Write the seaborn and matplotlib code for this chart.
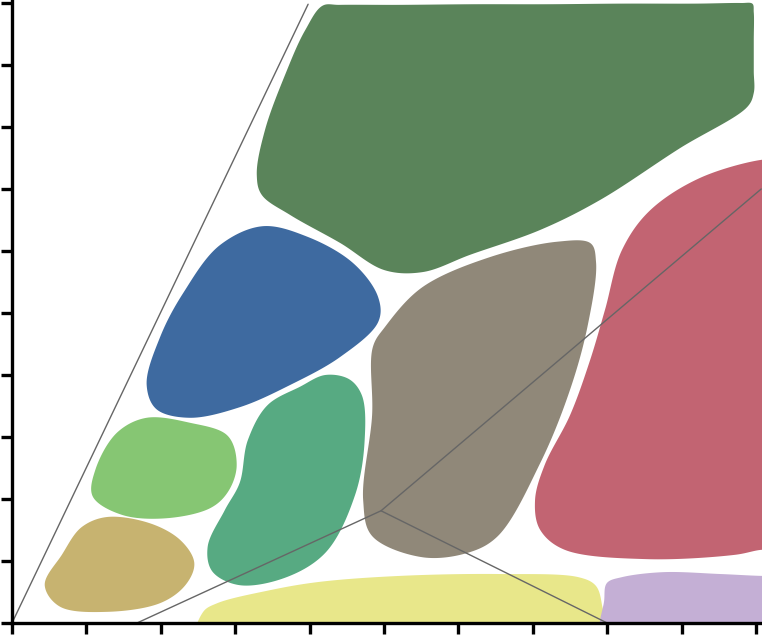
import numpy as np
import pandas as pd
import matplotlib
matplotlib.use("Agg")
import matplotlib.pyplot as plt
import seaborn as sns

# region outlines, data units (x 0-10, y 0-10)
tan_x = [1.28, 1.85, 2.26, 2.45, 2.33, 1.99, 1.28, 0.65, 0.44, 0.67, 0.94]
tan_y = [1.71, 1.61, 1.34, 0.97, 0.61, 0.32, 0.18, 0.26, 0.61, 1.10, 1.55]

lightgreen_x = [1.81, 2.39, 2.89, 3.02, 2.90, 2.66, 2.08, 1.49, 1.09, 1.12, 1.42]
lightgreen_y = [3.31, 3.23, 3.03, 2.55, 2.11, 1.85, 1.69, 1.74, 2.03, 2.47, 3.08]

teal_x = [4.21, 4.52, 4.70, 4.74, 4.61, 4.21, 3.67, 3.06, 2.70, 2.63, 2.86, 3.06, 3.17, 3.44, 3.87]
teal_y = [4.00, 3.94, 3.68, 2.95, 2.06, 1.13, 0.73, 0.61, 0.82, 1.23, 1.82, 2.26, 2.95, 3.52, 3.81]

blue_x = [3.37, 3.97, 4.58, 4.92, 4.92, 4.41, 3.74, 3.06, 2.39, 1.95, 1.81, 1.99, 2.30, 2.80]
blue_y = [6.40, 6.23, 5.81, 5.26, 4.85, 4.29, 3.84, 3.48, 3.31, 3.44, 3.84, 4.61, 5.32, 6.10]

darkgreen_x = [4.18, 4.40, 5.20, 6.20, 7.20, 8.20, 9.20, 9.80, 9.95, 9.97, 9.97, 9.97, 9.97,
               9.88, 8.98, 7.90, 7.10, 6.16, 5.52, 5.01,
               4.41, 3.74, 3.36, 3.29, 3.40, 3.67, 3.94]
darkgreen_y = [9.96, 9.97, 9.97, 9.98, 9.98, 9.99, 9.99, 10.0, 9.99, 9.85, 9.40, 8.90, 8.55,
               8.32, 7.66, 6.82, 6.34, 5.94, 5.66, 5.69,
               6.13, 6.58, 6.90, 7.23, 7.95, 8.84, 9.56]

gray_x = [7.33, 7.77, 7.85, 7.74, 7.50, 7.10, 6.52, 6.12, 5.52, 4.85, 4.72, 4.84, 4.85, 5.01, 5.52, 6.42]
gray_y = [6.15, 6.13, 5.82, 4.81, 3.76, 2.58, 1.39, 1.13, 1.06, 1.39, 1.98, 3.35, 4.45, 4.77, 5.42, 5.90]

pink_x = [10.07, 9.25, 8.58, 8.20, 7.97, 7.77, 7.50, 7.16, 7.03, 7.10, 7.43, 8.53, 9.72, 10.07, 10.32, 10.32]
pink_y = [7.47, 7.18, 6.66, 6.02, 5.05, 4.24, 3.35, 2.55, 1.98, 1.50, 1.18, 1.03, 1.10, 1.18, 1.18, 7.47]

yellow_x = [2.50, 2.57, 2.76, 3.43, 4.11, 5.22, 6.56, 7.61, 7.84, 7.93, 7.94, 5.22]
yellow_y = [-0.30, 0.18, 0.32, 0.52, 0.66, 0.76, 0.79, 0.74, 0.61, 0.29, -0.30, -0.30]

lavender_x = [7.96, 7.96, 8.00, 8.20, 8.75, 9.52, 10.07, 10.32, 10.32]
lavender_y = [-0.30, 0.37, 0.65, 0.74, 0.82, 0.79, 0.76, 0.76, -0.30]

regions = [
    (darkgreen_x, darkgreen_y, "#5a845a"),
    (blue_x, blue_y, "#3e6aa0"),
    (lightgreen_x, lightgreen_y, "#86c673"),
    (teal_x, teal_y, "#57aa82"),
    (tan_x, tan_y, "#c7b370"),
    (gray_x, gray_y, "#908879"),
    (pink_x, pink_y, "#c26472"),
    (yellow_x, yellow_y, "#e8e78a"),
    (lavender_x, lavender_y, "#c4afd5"),
]

# boundary lines
line_names = ["a", "a", "b", "b", "b", "c", "c"]
line_x = [0.0, 3.98, 1.68, 4.96, 10.07, 4.96, 8.0]
line_y = [0.0, 9.98, 0.0, 1.81, 7.0, 1.81, 0.0]


def smooth_closed(xs, ys, n=24):
    # centripetal catmull-rom through the outline points
    P = np.column_stack([xs, ys]).astype(float)
    m = len(P)
    out = []
    for i in range(m):
        p0, p1, p2, p3 = P[(i - 1) % m], P[i], P[(i + 1) % m], P[(i + 2) % m]
        t0 = 0.0
        t1 = t0 + np.linalg.norm(p1 - p0) ** 0.5
        t2 = t1 + np.linalg.norm(p2 - p1) ** 0.5
        t3 = t2 + np.linalg.norm(p3 - p2) ** 0.5
        t = np.linspace(t1, t2, n, endpoint=False)[:, None]
        a1 = (t1 - t) / (t1 - t0) * p0 + (t - t0) / (t1 - t0) * p1
        a2 = (t2 - t) / (t2 - t1) * p1 + (t - t1) / (t2 - t1) * p2
        a3 = (t3 - t) / (t3 - t2) * p2 + (t - t2) / (t3 - t2) * p3
        b1 = (t2 - t) / (t2 - t0) * a1 + (t - t0) / (t2 - t0) * a2
        b2 = (t3 - t) / (t3 - t1) * a2 + (t - t1) / (t3 - t1) * a3
        out.append((t2 - t) / (t2 - t1) * b1 + (t - t1) / (t2 - t1) * b2)
    return np.vstack(out)


sns.set_style("ticks")
fig = plt.figure(figsize=(7.62, 6.38), dpi=100)
ax = fig.add_axes([12 / 762, 15 / 638, 750 / 762, 623 / 638])

for xs, ys, col in regions:
    pts = smooth_closed(xs, ys)
    ax.fill(pts[:, 0], pts[:, 1], color=col, lw=0, zorder=1)

lines = pd.DataFrame({"seg": line_names, "x": line_x, "y": line_y})
for name, grp in lines.groupby("seg"):
    sns.lineplot(data=grp, x="x", y="y", sort=False, color="#666666",
                 lw=1.0, ax=ax, zorder=3)

ax.set_xlim(0, 750 / 74.4)
ax.set_ylim(0, 623 / 62)
ax.set_xticks(np.arange(0, 11))
ax.set_yticks(np.arange(0, 11))
ax.set_xticklabels([])
ax.set_yticklabels([])
ax.set_xlabel("")
ax.set_ylabel("")
sns.despine(ax=ax)
for s in ["left", "bottom"]:
    ax.spines[s].set_linewidth(2.4)
    ax.spines[s].set_color("black")
    ax.spines[s].set_zorder(5)
ax.tick_params(length=8, width=2.4, color="black", direction="out")

fig.savefig("out.png", dpi=100)
